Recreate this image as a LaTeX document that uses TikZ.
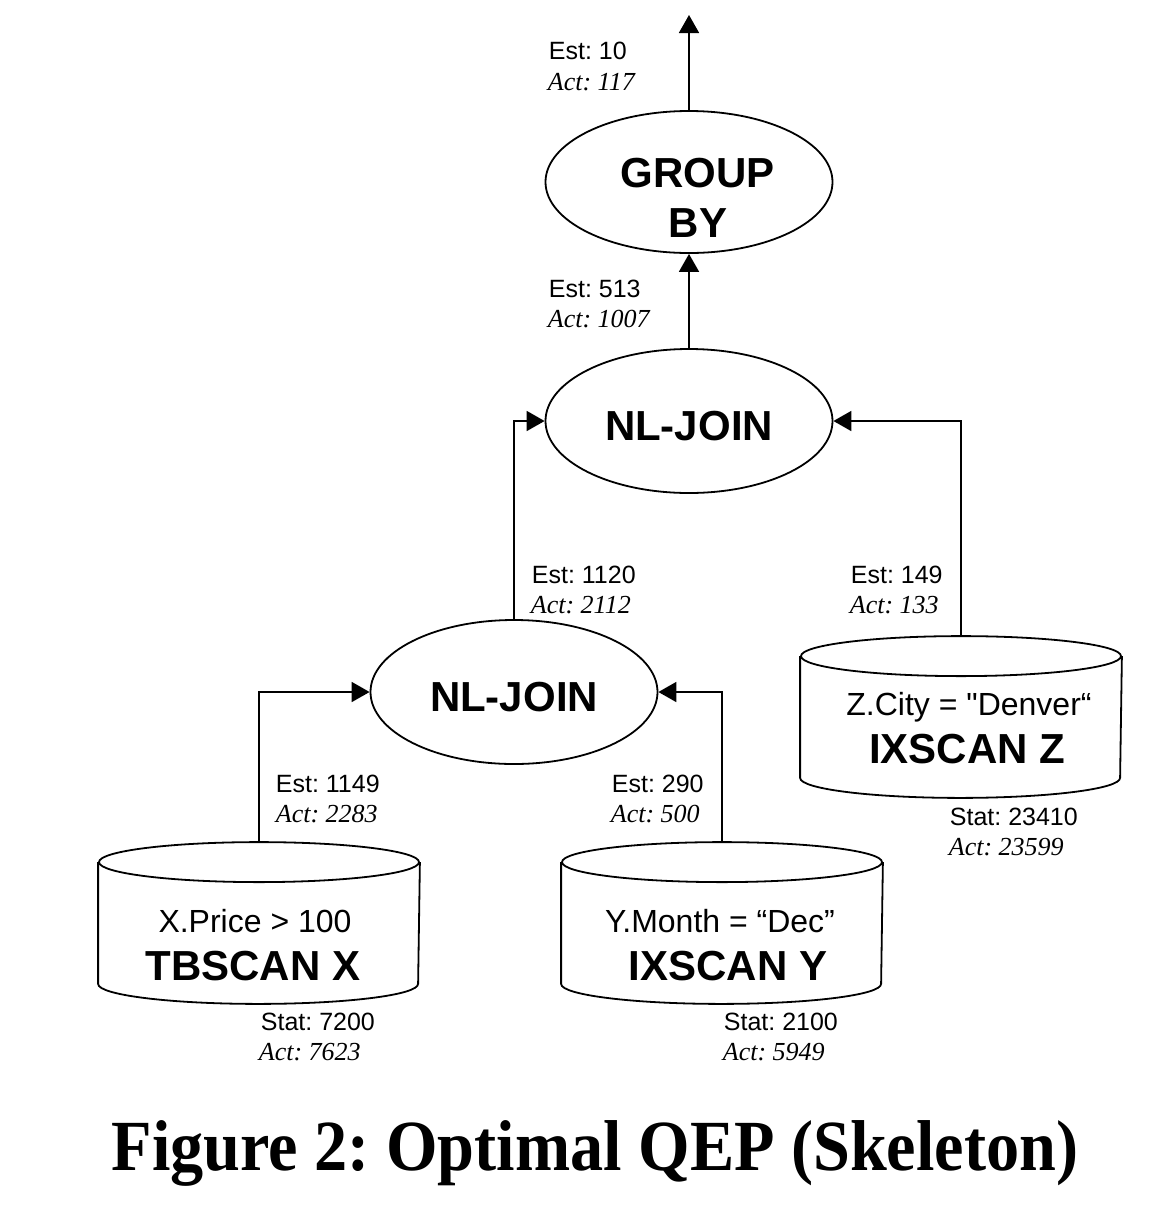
\documentclass[tikz,border=0pt]{standalone}
\usepackage{graphicx}
\usepackage{fontspec}
\setmainfont{Liberation Sans}[Ligatures=TeXOff]
\newfontfamily\tms{Liberation Serif}[Ligatures=TeXOff]
\usetikzlibrary{shapes.geometric,arrows.meta,calc}
\frenchspacing
\newcommand\drawcyl[1]{%
  \draw ($(#1.north west)+(0,20)$) -- ($(#1.south west)+(0,-20)$)
     arc[start angle=180,end angle=360,x radius=80pt,y radius=10pt]
     -- ($(#1.north east)+(0,20)$);
  \draw ($(#1.north)+(0,20)$) ellipse[x radius=80pt,y radius=10pt];
}
\begin{document}
\frenchspacing
\begin{tikzpicture}[x=0.5pt,y=-0.5pt,
  line width=0.9pt,
  op/.style={draw,ellipse,inner sep=0pt,minimum width=143.5pt,minimum height=71pt},
  cyl/.style={inner sep=0pt,minimum width=160pt,minimum height=80pt},
  est/.style={anchor=base west,inner sep=0pt,font=\frenchspacing\fontsize{12.5}{15}\selectfont},
  act/.style={anchor=base west,inner sep=0pt,font=\frenchspacing\tms\itshape\fontsize{13}{15}\selectfont},
  optext/.style={anchor=base,inner sep=0pt,font=\bfseries\fontsize{21}{25}\selectfont},
  pred/.style={anchor=base,inner sep=0pt,font=\fontsize{16}{19}\selectfont},
  flow/.style={-{Triangle[length=9pt,width=10pt]}},
]
\useasboundingbox (0,0) rectangle (1162,1206);

% operator ellipses
\node[op] (gb) at (689,182) {};
\node[optext] (gbt1) at (698,187) {GROUP};
\node[optext] (gbt2) at (698,237) {BY};

\node[op,minimum height=72pt] (nj1) at (689,421) {};
\node[optext] (nj1t) at (689,440) {NL-JOIN};

\node[op,minimum height=72pt] (nj2) at (514,692) {};
\node[optext] (nj2t) at (514,711) {NL-JOIN};

% cylinders
\node[cyl] (tbx) at (259,923) {};
\drawcyl{tbx}
\node[pred] (tbxp) at (255,932) {X.Price > 100};
\node[optext] (tbxt) at (253,980) {TBSCAN X};

\node[cyl] (ixy) at (722,923) {};
\drawcyl{ixy}
\node[pred] (ixyp) at (720,932) {Y.Month = “Dec”};
\node[optext] (ixyt) at (728,980) {IXSCAN Y};

\node[cyl] (ixz) at (961,717) {};
\drawcyl{ixz}
\node[pred] (ixzp) at (969,715) {Z.City = "Denver“};
\node[optext] (ixzt) at (967,763) {IXSCAN Z};

% connectors
\coordinate (out) at (689,15);
\draw[flow] (gb.north) -- (out);
\draw[flow] (nj1.north) -- (gb.south);
\draw[flow] (nj2.north) |- (nj1.west);
\draw[flow] (ixz.north) |- (nj1.east);
\draw[flow] (tbx.north) |- (nj2.west);
\draw[flow] (ixy.north) |- (nj2.east);

% labels
\node[est] (e1) at (548,59) {Est: 10};
\node[act] (a1) at (547,90) {Act: 117};
\node[est] (e2) at (548,297) {Est: 513};
\node[act] (a2) at (547,327) {Act: 1007};
\node[est] (e3) at (531,583) {Est: 1120};
\node[act] (a3) at (530,613) {Act: 2112};
\node[est] (e4) at (850,583) {Est: 149};
\node[act] (a4) at (849,613) {Act: 133};
\node[est] (e5) at (275,792) {Est: 1149};
\node[act] (a5) at (275,822) {Act: 2283};
\node[est] (e6) at (611,792) {Est: 290};
\node[act] (a6) at (610,822) {Act: 500};
\node[est] (s1) at (260,1030) {Stat: 7200};
\node[act] (sa1) at (258,1060) {Act: 7623};
\node[est] (s2) at (723,1030) {Stat: 2100};
\node[act] (sa2) at (722,1060) {Act: 5949};
\node[est] (s3) at (949,825) {Stat: 23410};
\node[act] (sa3) at (948,855) {Act: 23599};

% caption
\node[anchor=base,inner sep=0pt,font=\frenchspacing\tms\bfseries\fontsize{36}{40}\selectfont] (cap) at (595,1170) {\scalebox{0.92}[1]{Figure 2: Optimal QEP (Skeleton)}};
\end{tikzpicture}
\end{document}
